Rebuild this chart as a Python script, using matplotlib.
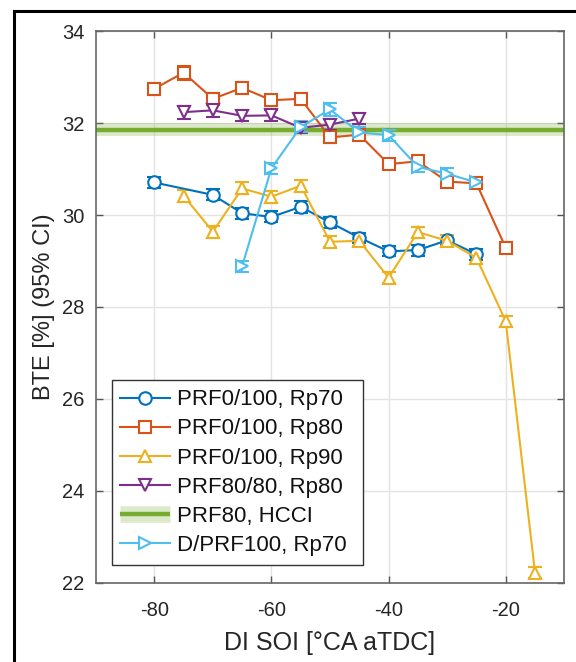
import matplotlib
matplotlib.use("Agg")
import matplotlib.pyplot as plt
from matplotlib.lines import Line2D
from matplotlib.patches import Rectangle
from matplotlib.legend_handler import HandlerTuple

plt.rcParams['font.family'] = ['Liberation Sans', 'DejaVu Sans']
plt.rcParams['axes.unicode_minus'] = False

# ---- data ----
x_rp70 = [-80, -70, -65, -60, -55, -50, -45, -40, -35, -30, -25]
y_rp70 = [30.71, 30.44, 30.04, 29.96, 30.18, 29.84, 29.51, 29.21, 29.24, 29.45, 29.15]
e_rp70 = [0.13, 0.12, 0.12, 0.12, 0.13, 0.12, 0.11, 0.11, 0.12, 0.11, 0.12]

x_rp80 = [-80, -75, -70, -65, -60, -55, -50, -45, -40, -35, -30, -25, -20]
y_rp80 = [32.75, 33.10, 32.53, 32.77, 32.50, 32.53, 31.69, 31.75, 31.11, 31.17, 30.73, 30.69, 29.29]
e_rp80 = [0.13, 0.15, 0.12, 0.13, 0.12, 0.12, 0.12, 0.11, 0.11, 0.12, 0.12, 0.11, 0.12]

x_rp90 = [-75, -70, -65, -60, -55, -50, -45, -40, -35, -30, -25, -20, -15]
y_rp90 = [30.42, 29.64, 30.58, 30.40, 30.64, 29.42, 29.44, 28.64, 29.63, 29.44, 29.07, 27.69, 22.22]
e_rp90 = [0.13, 0.13, 0.13, 0.13, 0.13, 0.12, 0.12, 0.12, 0.12, 0.12, 0.13, 0.12, 0.12]

x_prf80 = [-75, -70, -65, -60, -55, -50, -45]
y_prf80 = [32.24, 32.28, 32.16, 32.17, 31.90, 31.97, 32.10]
e_prf80 = [0.14, 0.14, 0.12, 0.12, 0.12, 0.12, 0.12]

hcci_mean = 31.86
hcci_lo = 31.72
hcci_hi = 32.00

x_dprf = [-65, -60, -55, -50, -45, -40, -35, -30, -25]
y_dprf = [28.89, 31.02, 31.92, 32.30, 31.80, 31.74, 31.05, 30.90, 30.71]
e_dprf = [0.12, 0.12, 0.12, 0.14, 0.12, 0.12, 0.12, 0.12, 0.12]

labels = ['PRF0/100, Rp70', 'PRF0/100, Rp80', 'PRF0/100, Rp90',
          'PRF80/80, Rp80', 'PRF80, HCCI', 'D/PRF100, Rp70']

c_blue = '#0072BD'
c_orange = '#D95319'
c_yellow = '#EDB120'
c_purple = '#7E2F8E'
c_green = '#77AC30'
c_lblue = '#4DBEEE'
txt = '#262626'

fig = plt.figure(figsize=(5.76, 6.62), dpi=100)
ax = fig.add_axes([95.7/576, 1-582.7/662, (564.3-95.7)/576, (582.7-31.3)/662])

ax.axhspan(hcci_lo, hcci_hi, color=c_green, alpha=0.25, lw=0, zorder=1)
ax.axhline(hcci_mean, color=c_green, lw=3.2, zorder=2)

common = dict(lw=1.5, ms=9, mfc='white', mew=1.5, capsize=4.7, capthick=1.5,
              elinewidth=1.5, zorder=3)
series = [
    (x_rp70, y_rp70, e_rp70, c_blue, 'o'),
    (x_rp80, y_rp80, e_rp80, c_orange, 's'),
    (x_rp90, y_rp90, e_rp90, c_yellow, '^'),
    (x_prf80, y_prf80, e_prf80, c_purple, 'v'),
    (x_dprf, y_dprf, e_dprf, c_lblue, '>'),
]
for xs, ys, es, c, m in series:
    ax.errorbar(xs, ys, yerr=es, color=c, marker=m, mec=c, **common)

ax.set_xlim(-90, -10)
ax.set_ylim(22, 34)
ax.set_xticks([-80, -60, -40, -20])
ax.set_yticks([22, 24, 26, 28, 30, 32, 34])
ax.grid(True, color='#e3e3e3', lw=1.0, zorder=0)
ax.set_axisbelow(True)
ax.tick_params(direction='in', length=5, width=1, colors='#555555',
               labelcolor=txt, labelsize=14.5, top=True, right=True)
ax.tick_params(axis='y', pad=8)
ax.tick_params(axis='x', pad=13)
for s in ax.spines.values():
    s.set_color('#666666')
    s.set_linewidth(1.2)

ax.set_xlabel('DI SOI [°CA aTDC]', fontsize=18, color=txt, labelpad=8)
ax.set_ylabel('BTE [%] (95% CI)', fontsize=17, color=txt, labelpad=5)

# legend box (drawn separately to match the reference's padding)
box = Rectangle((0.0354, 0.0321), 0.5698 - 0.0354, 0.3676 - 0.0321,
                transform=ax.transAxes, facecolor='white', edgecolor='#333333',
                lw=1.0, zorder=4.5)
ax.add_patch(box)

lkw = dict(lw=1.5, ms=9, mfc='white', mew=1.5)
h = [
    Line2D([], [], color=c_blue, marker='o', mec=c_blue, **lkw),
    Line2D([], [], color=c_orange, marker='s', mec=c_orange, **lkw),
    Line2D([], [], color=c_yellow, marker='^', mec=c_yellow, **lkw),
    Line2D([], [], color=c_purple, marker='v', mec=c_purple, **lkw),
    (Line2D([], [], color=c_green, alpha=0.25, lw=12, solid_capstyle='butt'),
     Line2D([], [], color=c_green, lw=3.2, solid_capstyle='butt')),
    Line2D([], [], color=c_lblue, marker='>', mec=c_lblue, **lkw),
]
leg = ax.legend(h, labels, loc='upper left', bbox_to_anchor=(0.032, 0.3676),
                fontsize=16, frameon=False, handlelength=2.25, handletextpad=0.3,
                labelspacing=0.365, borderpad=0.42, borderaxespad=0,
                handler_map={tuple: HandlerTuple(ndivide=1)})
leg.set_zorder(5)
for t in leg.get_texts():
    t.set_color('#111111')

# black outer frame (left and top edges visible)
fig.add_artist(Line2D([14/576, 14/576], [0, 1-11/662], color='black', lw=2.2,
                      transform=fig.transFigure))
fig.add_artist(Line2D([14/576, 1], [1-11/662, 1-11/662], color='black', lw=2.2,
                      transform=fig.transFigure))

fig.savefig('out.png', dpi=100)
